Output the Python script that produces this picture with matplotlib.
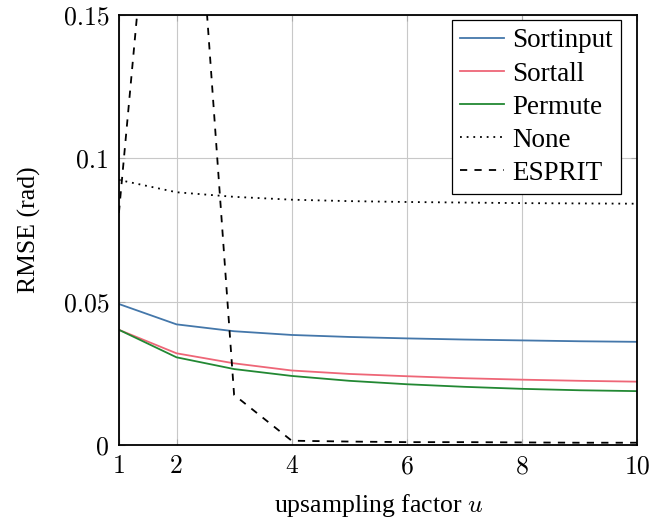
import numpy as np
import matplotlib.pyplot as plt

# data
u = [1, 2, 3, 4, 5, 6, 7, 8, 9, 10]
sortinput = [0.0492, 0.0421, 0.0397, 0.0384, 0.0377, 0.0372, 0.0368, 0.0365, 0.0362, 0.0360]
sortall = [0.0402, 0.0320, 0.0285, 0.0260, 0.0248, 0.0240, 0.0233, 0.0228, 0.0224, 0.0221]
permute = [0.0402, 0.0306, 0.0265, 0.0241, 0.0224, 0.0212, 0.0203, 0.0196, 0.0191, 0.0188]
none = [0.0925, 0.0882, 0.0866, 0.0856, 0.0851, 0.0848, 0.0846, 0.0844, 0.0843, 0.0842]
esprit = [0.081, 0.300, 0.0175, 0.0015, 0.0012, 0.0010, 0.0010, 0.0009, 0.0008, 0.0008]

xticks = [1, 2, 4, 6, 8, 10]
xticklabels = ["1", "2", "4", "6", "8", "10"]
yticks = [0, 0.05, 0.1, 0.15]
yticklabels = ["0", "0.05", "0.1", "0.15"]

plt.rcParams['font.family'] = ['Liberation Serif', 'DejaVu Serif']
plt.rcParams['mathtext.fontset'] = 'cm'
fs = 18.5

fig = plt.figure(figsize=(6.68, 5.22), dpi=100)
ax = fig.add_axes([0.178, 0.1475, 0.776, 0.8235])

# --- courbes ---
ax.plot(u, sortinput, color='#4477AA', lw=1.3, label="Sortinput")
ax.plot(u, sortall, color='#EE6677', lw=1.3, label="Sortall")
ax.plot(u, permute, color='#228833', lw=1.3, label="Permute")
ax.plot(u, none, color='black', lw=1.3, linestyle=(0, (1, 2.7)), label="None")
ax.plot(u, esprit, color='black', lw=1.3, linestyle=(0, (4, 4)), label="ESPRIT")

ax.set_xlim(1, 10)
ax.set_ylim(0, 0.15)
ax.set_xticks(xticks)
ax.set_xticklabels(xticklabels, fontfamily='cmr10', fontsize=fs)
ax.set_yticks(yticks)
ax.set_yticklabels(yticklabels, fontfamily='cmr10', fontsize=fs)
ax.grid(True, color='#c8c8c8', lw=0.8)
ax.tick_params(direction='in', top=True, right=True, color='#aaaaaa', length=4, pad=7)
for s in ax.spines.values():
    s.set_linewidth(1.3)

ax.set_xlabel("upsampling factor $u$", fontsize=fs, labelpad=10)
ax.set_ylabel("RMSE (rad)", fontsize=fs, labelpad=16)

leg = ax.legend(loc='upper right', bbox_to_anchor=(0.969, 0.988), fancybox=False,
                framealpha=1, edgecolor='black', fontsize=19.5,
                handlelength=1.6, handletextpad=0.33, borderpad=0.3,
                labelspacing=0.3, borderaxespad=0)
leg.get_frame().set_linewidth(0.9)

plt.savefig("out.png", dpi=100)
